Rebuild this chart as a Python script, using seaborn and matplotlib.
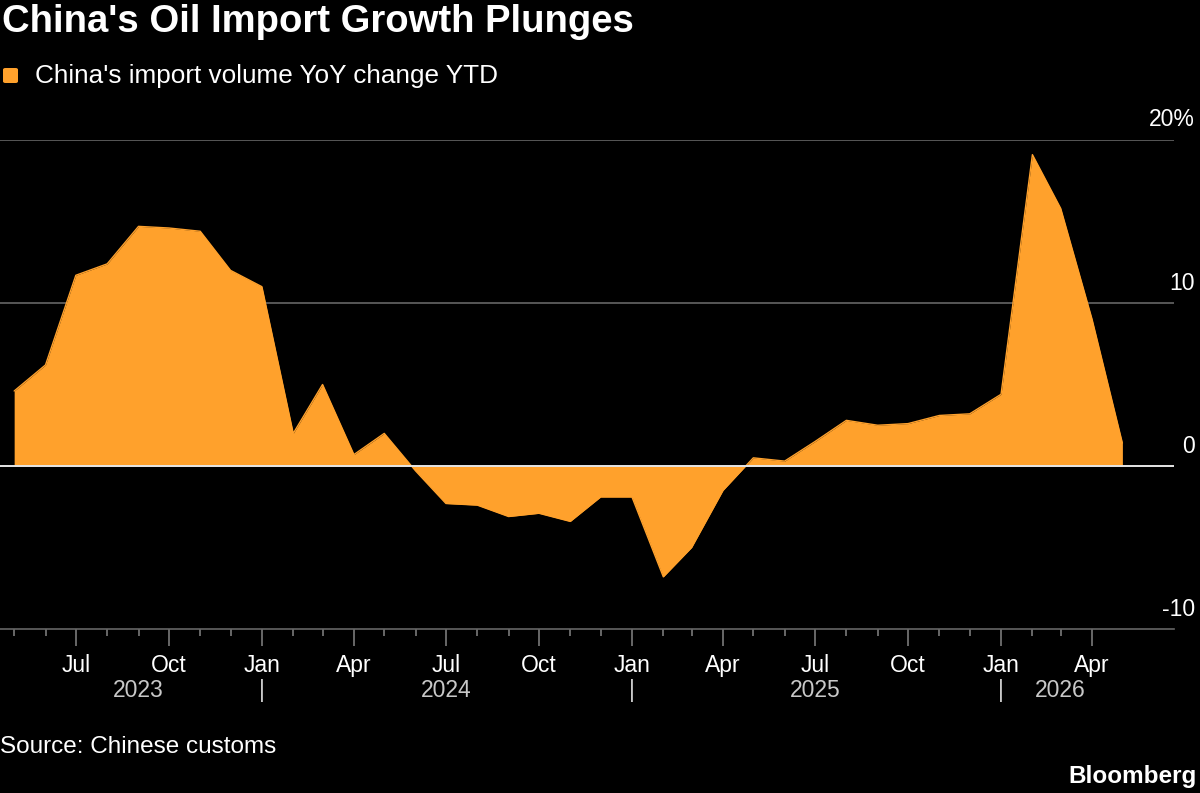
import matplotlib
matplotlib.use('Agg')
import matplotlib.pyplot as plt
import matplotlib.dates as mdates
import matplotlib.ticker as mticker
import matplotlib.transforms as mtransforms
from matplotlib.patches import FancyBboxPatch
import pandas as pd
import seaborn as sns

# Data: China's crude import volume, YoY change YTD (%)
months = pd.date_range('2023-05-01', '2026-05-01', freq='MS')
yoy_change = [4.6, 6.2, 11.7, 12.4, 14.7, 14.6, 14.4, 12.0,
              11.0, 2.0, 5.0, 0.7, 2.0, -0.3, -2.3, -2.4, -3.1, -2.9, -3.4, -1.9,
              -1.9, -6.8, -5.0, -1.5, 0.5, 0.3, 1.5, 2.8, 2.5, 2.6, 3.1, 3.2,
              4.4, 19.1, 15.8, 9.0, 1.4]
y_ticks = [-10, 0, 10, 20]
y_labels = ['-10', '0', '10', '20%']
year_labels = ['2023', '2024', '2025', '2026']
year_label_dates = pd.to_datetime(['2023-09-01', '2024-07-01', '2025-07-01', '2026-03-01'])
year_breaks = pd.to_datetime(['2024-01-01', '2025-01-01', '2026-01-01'])
tick_months = pd.date_range('2023-05-01', '2026-04-01', freq='MS')

df = pd.DataFrame({'Month': months, 'YoY': yoy_change})

orange = '#FFA12C'
grid_grey = '#666666'

sns.set_style('dark', {'axes.facecolor': 'black', 'figure.facecolor': 'black'})
plt.rcParams['font.family'] = ['Liberation Sans', 'DejaVu Sans']

fig = plt.figure(figsize=(12, 7.93), dpi=100)
fig.patch.set_facecolor('black')
ax = fig.add_axes([0.0, 0.2068, 0.9783, 0.6167])
ax.set_facecolor('black')

# Area chart
ax.fill_between(df['Month'], df['YoY'], 0, color=orange, linewidth=0, zorder=2)
sns.lineplot(data=df, x='Month', y='YoY', color=orange, linewidth=1, ax=ax, zorder=2)

# Gridlines and zero line
for v in [10, 20]:
    ax.axhline(v, color=grid_grey, linewidth=1.2, zorder=1)
ax.axhline(0, color='#e6e6e6', linewidth=1.4, zorder=3)

ax.set_ylim(-10, 20)
ax.set_xlim(pd.Timestamp('2023-04-17'), pd.Timestamp('2026-06-21'))
ax.set_xlabel('')
ax.set_ylabel('')
ax.set_yticks([])
ax.grid(False)

for side in ['top', 'right', 'left']:
    ax.spines[side].set_visible(False)
ax.spines['bottom'].set_color(grid_grey)
ax.spines['bottom'].set_linewidth(1.2)

# X ticks: quarterly labels, monthly minor ticks (May 2023 - Apr 2026)
major_months = [d for d in tick_months if d.month in (1, 4, 7, 10)]
ax.xaxis.set_major_locator(mticker.FixedLocator(mdates.date2num(major_months)))
ax.xaxis.set_major_formatter(mdates.DateFormatter('%b'))
ax.xaxis.set_minor_locator(mticker.FixedLocator(mdates.date2num(tick_months)))
ax.tick_params(axis='x', which='major', direction='out', length=12, width=1.2,
               color='#7a7a7a', labelcolor='white', labelsize=16.5, pad=6, bottom=True)
ax.tick_params(axis='x', which='minor', direction='out', length=5, width=1.2,
               color='#7a7a7a', bottom=True)

# Year labels and separators
trans = mtransforms.blended_transform_factory(ax.transData, fig.transFigure)
for d, lab in zip(year_label_dates, year_labels):
    ax.text(mdates.date2num(d), 1 - 697 / 793, lab, transform=trans, ha='center',
            va='baseline', color='#c8c8c8', fontsize=16.5, clip_on=False)
for d in year_breaks:
    ax.text(mdates.date2num(d), 1 - 697 / 793, '|', transform=trans, ha='center',
            va='baseline', color='#c8c8c8', fontsize=16.5, clip_on=False)

# Y labels (right side, above the lines)
for v, lab in zip(y_ticks, y_labels):
    ax.annotate(lab, xy=(0.996, v), xycoords=('figure fraction', 'data'),
                xytext=(0, 9.7), textcoords='offset points',
                ha='right', va='baseline', color='white', fontsize=16.5,
                annotation_clip=False)

# Title, legend, source
fig.text(0.002, 1 - 32 / 793, "China's Oil Import Growth Plunges", color='white',
         fontsize=27.5, fontweight='bold', ha='left', va='baseline')
fig.patches.append(FancyBboxPatch((3 / 1200, 1 - 83 / 793), 15 / 1200, 15 / 793,
                                  boxstyle='round,pad=0,rounding_size=0.002',
                                  transform=fig.transFigure, facecolor=orange,
                                  edgecolor='none'))
fig.text(35 / 1200, 1 - 83 / 793, "China's import volume YoY change YTD", color='white',
         fontsize=18.8, ha='left', va='baseline')
fig.text(0.0, 1 - 753 / 793, 'Source: Chinese customs', color='white',
         fontsize=17.5, ha='left', va='baseline')
fig.text(1197 / 1200, 1 - 783 / 793, 'Bloomberg', color='white',
         fontsize=17.5, fontweight='bold', ha='right', va='baseline')

fig.savefig('out.png', dpi=100, facecolor='black')
